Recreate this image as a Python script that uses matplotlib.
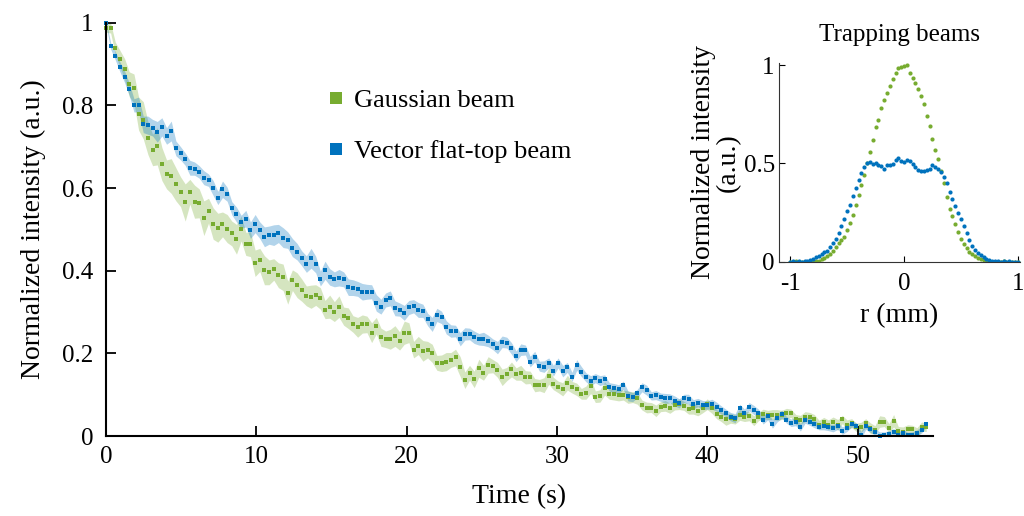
import numpy as np
import matplotlib
matplotlib.use('Agg')
import matplotlib.pyplot as plt

plt.rcParams['font.family'] = ['Liberation Serif', 'DejaVu Serif']
plt.rcParams['axes.unicode_minus'] = False

GREEN = '#77AC30'
BLUE = '#0072BD'

# decay measurement, one sample every 0.31 s
dt = 0.31

gauss_mean = [
    0.987, 0.987, 0.938, 0.913, 0.888, 0.851, 0.841, 0.78, 0.764, 0.721,
    0.692, 0.701, 0.658, 0.633, 0.629, 0.609, 0.591, 0.565, 0.591, 0.567,
    0.563, 0.527, 0.545, 0.514, 0.504, 0.512, 0.502, 0.49, 0.476, 0.502, 0.465,
    0.464, 0.418, 0.426, 0.401, 0.396, 0.403, 0.389, 0.384, 0.347, 0.377,
    0.365, 0.353, 0.339, 0.337, 0.341, 0.333, 0.306, 0.313, 0.301, 0.313,
    0.29, 0.285, 0.271, 0.263, 0.271, 0.27, 0.25, 0.267, 0.239, 0.234, 0.234,
    0.242, 0.23, 0.25, 0.25, 0.209, 0.219, 0.206, 0.209, 0.2, 0.177,
    0.176, 0.18, 0.184, 0.19, 0.168, 0.135, 0.153, 0.137, 0.164, 0.153,
    0.172, 0.169, 0.16, 0.142, 0.15, 0.161, 0.15, 0.153, 0.142, 0.142,
    0.123, 0.123, 0.123, 0.145, 0.127, 0.119, 0.113, 0.129, 0.118, 0.113,
    0.102, 0.105, 0.121, 0.095, 0.097, 0.115, 0.102, 0.102, 0.099, 0.099,
    0.094, 0.094, 0.091, 0.075, 0.069, 0.069, 0.061, 0.071, 0.073, 0.067,
    0.075, 0.077, 0.073, 0.065, 0.067, 0.061, 0.067, 0.077, 0.067, 0.053,
    0.047, 0.04, 0.043, 0.04, 0.051, 0.047, 0.048, 0.037, 0.047, 0.053,
    0.051, 0.052, 0.051, 0.051, 0.055, 0.055, 0.04, 0.039, 0.047, 0.047,
    0.04, 0.027, 0.035, 0.027, 0.035, 0.027, 0.04, 0.027, 0.031, 0.021,
    0.021, 0.031, 0.019, 0.015, 0.035, 0.035, 0.019, 0.037, 0.013, 0.01,
    0.016, 0.016, 0.008, 0.023, 0.021,
]
gauss_err = [
    0.01, 0.012, 0.015, 0.02, 0.025, 0.03, 0.035, 0.04, 0.045, 0.04,
    0.038, 0.045, 0.04, 0.035, 0.042, 0.04, 0.036, 0.045, 0.03, 0.04,
    0.035, 0.042, 0.03, 0.038, 0.035, 0.03, 0.034, 0.03, 0.036, 0.03, 0.028,
    0.03, 0.032, 0.028, 0.035, 0.03, 0.026, 0.03, 0.032, 0.028, 0.025,
    0.03, 0.027, 0.024, 0.028, 0.025, 0.026, 0.022, 0.028, 0.024, 0.026,
    0.022, 0.025, 0.02, 0.024, 0.022, 0.02, 0.024, 0.02, 0.022, 0.02, 0.024,
    0.025, 0.022, 0.028, 0.024, 0.02, 0.022, 0.025, 0.02, 0.022, 0.018,
    0.02, 0.022, 0.018, 0.02, 0.024, 0.02, 0.018, 0.02, 0.022, 0.018,
    0.02, 0.016, 0.018, 0.02, 0.016, 0.018, 0.015, 0.018, 0.016, 0.015,
    0.016, 0.014, 0.018, 0.02, 0.015, 0.014, 0.016, 0.018, 0.014, 0.015,
    0.013, 0.016, 0.018, 0.014, 0.015, 0.016, 0.013, 0.015, 0.014, 0.012,
    0.015, 0.013, 0.014, 0.012, 0.013, 0.012, 0.014, 0.012, 0.013, 0.012,
    0.012, 0.013, 0.011, 0.012, 0.014, 0.012, 0.011, 0.013, 0.012, 0.011,
    0.012, 0.014, 0.012, 0.011, 0.013, 0.012, 0.011, 0.012, 0.01, 0.012,
    0.011, 0.012, 0.013, 0.011, 0.012, 0.01, 0.012, 0.011, 0.012, 0.01,
    0.012, 0.011, 0.01, 0.012, 0.011, 0.013, 0.01, 0.012, 0.011, 0.01,
    0.012, 0.011, 0.013, 0.01, 0.014, 0.012, 0.011, 0.015, 0.01, 0.012,
    0.011, 0.01, 0.012, 0.011, 0.01,
]

flat_mean = [
    1.0, 0.944, 0.92, 0.893, 0.869, 0.839, 0.80, 0.802, 0.754, 0.752,
    0.746, 0.736, 0.748, 0.726, 0.738, 0.696, 0.684, 0.67, 0.649, 0.647,
    0.639, 0.625, 0.619, 0.60, 0.576, 0.597, 0.585, 0.551, 0.536, 0.518, 0.526,
    0.498, 0.514, 0.498, 0.482, 0.486, 0.486, 0.49, 0.48, 0.474, 0.456,
    0.446, 0.43, 0.416, 0.43, 0.415, 0.381, 0.401, 0.385, 0.379, 0.383,
    0.379, 0.36, 0.359, 0.356, 0.349, 0.349, 0.349, 0.322, 0.313, 0.329, 0.333,
    0.309, 0.306, 0.298, 0.311, 0.314, 0.305, 0.303, 0.282, 0.27, 0.293,
    0.287, 0.263, 0.254, 0.254, 0.234, 0.247, 0.247, 0.239, 0.234, 0.235,
    0.23, 0.222, 0.214, 0.228, 0.226, 0.212, 0.193, 0.209, 0.208, 0.18,
    0.192, 0.169, 0.168, 0.177, 0.158, 0.177, 0.157, 0.166, 0.143, 0.172,
    0.156, 0.142, 0.134, 0.14, 0.134, 0.137, 0.119, 0.115, 0.113, 0.123,
    0.097, 0.094, 0.103, 0.118, 0.111, 0.097, 0.099, 0.094, 0.091, 0.091,
    0.085, 0.079, 0.091, 0.089, 0.077, 0.081, 0.075, 0.075, 0.077, 0.071,
    0.063, 0.056, 0.047, 0.043, 0.067, 0.056, 0.071, 0.063, 0.056, 0.039,
    0.048, 0.029, 0.043, 0.053, 0.039, 0.032, 0.035, 0.021, 0.039, 0.035,
    0.029, 0.023, 0.024, 0.021, 0.019, 0.024, 0.013, 0.019, 0.029, 0.024,
    0.002, 0.024, 0.016, 0.01, 0.001, 0.002, 0.006, 0.01, 0.002, 0.008,
    0.002, 0.002, 0.008, 0.015, 0.029,
]
flat_err = [
    0.005, 0.008, 0.01, 0.012, 0.014, 0.015, 0.016, 0.018, 0.02, 0.022,
    0.02, 0.025, 0.022, 0.02, 0.024, 0.018, 0.016, 0.015, 0.018, 0.016,
    0.015, 0.017, 0.015, 0.018, 0.016, 0.02, 0.017, 0.016, 0.018, 0.016, 0.02,
    0.02, 0.022, 0.02, 0.024, 0.022, 0.025, 0.022, 0.024, 0.02, 0.022,
    0.02, 0.018, 0.02, 0.024, 0.02, 0.018, 0.022, 0.02, 0.018, 0.02,
    0.018, 0.02, 0.019, 0.018, 0.02, 0.018, 0.017, 0.02, 0.018, 0.017, 0.018,
    0.018, 0.016, 0.018, 0.017, 0.016, 0.018, 0.016, 0.015, 0.017, 0.016,
    0.015, 0.016, 0.015, 0.014, 0.016, 0.015, 0.014, 0.015, 0.014, 0.016,
    0.014, 0.013, 0.015, 0.014, 0.013, 0.014, 0.013, 0.014, 0.012, 0.013,
    0.013, 0.012, 0.014, 0.012, 0.013, 0.012, 0.014, 0.012, 0.011, 0.013,
    0.012, 0.011, 0.012, 0.011, 0.012, 0.011, 0.01, 0.012, 0.011, 0.01,
    0.012, 0.011, 0.01, 0.011, 0.012, 0.01, 0.011, 0.01, 0.012, 0.011,
    0.012, 0.011, 0.01, 0.012, 0.011, 0.01, 0.011, 0.01, 0.012, 0.011,
    0.01, 0.009, 0.01, 0.011, 0.01, 0.009, 0.01, 0.011, 0.009, 0.01,
    0.009, 0.01, 0.009, 0.01, 0.008, 0.009, 0.01, 0.009, 0.008, 0.009,
    0.009, 0.008, 0.009, 0.008, 0.009, 0.008, 0.009, 0.008, 0.007, 0.008,
    0.009, 0.008, 0.007, 0.008, 0.009, 0.008, 0.007, 0.008, 0.007, 0.008,
    0.007, 0.008, 0.007, 0.008, 0.007,
]

# beam profiles for the inset, r from -1 to 1 mm
profile_gauss = [
    0, 0, 0.002, 0, 0, 0.001, 0, 0.002, 0.001,
    0.003, 0.006, 0.012, 0.02, 0.03, 0.04, 0.055, 0.075, 0.097, 0.11,
    0.128, 0.16, 0.195, 0.24, 0.29, 0.34, 0.39, 0.44, 0.5, 0.56,
    0.62, 0.686, 0.72, 0.78, 0.82, 0.86, 0.895, 0.93, 0.958, 0.985, 0.99,
    0.995, 1.0, 0.96, 0.935, 0.91, 0.876, 0.84, 0.8, 0.74, 0.69,
    0.625, 0.57, 0.52, 0.46, 0.4, 0.33, 0.27, 0.23, 0.19, 0.15,
    0.118, 0.09, 0.068, 0.05, 0.038, 0.028, 0.02, 0.013, 0.008, 0.004, 0.001,
    0, 0.001, 0, 0, 0.002, 0, 0, 0.001, 0, 0,
]
profile_flat = [
    0, 0.003, 0, 0.002, 0, 0.004, 0.006, 0.01, 0.016, 0.022,
    0.03, 0.04, 0.05, 0.057, 0.075, 0.095, 0.118, 0.145, 0.18, 0.215,
    0.26, 0.29, 0.335, 0.375, 0.415, 0.45, 0.483, 0.5, 0.505, 0.498,
    0.5, 0.49, 0.485, 0.47, 0.492, 0.49, 0.495, 0.515, 0.525, 0.51,
    0.505, 0.515, 0.51, 0.495, 0.483, 0.468, 0.462, 0.46, 0.465, 0.47,
    0.49, 0.482, 0.47, 0.455, 0.43, 0.398, 0.356, 0.32, 0.285, 0.25,
    0.215, 0.18, 0.145, 0.108, 0.08, 0.06, 0.042, 0.032, 0.022, 0.012,
    0.008, 0.006, 0.004, 0.002, 0, 0.003, 0, 0.002, 0, 0.001, 0,
]

fig = plt.figure(figsize=(10.24, 5.16), dpi=100)

# main decay plot
ax = fig.add_axes([0.1035, 0.155, 0.8075, 0.801])

for mean, err, color, label in [(gauss_mean, gauss_err, GREEN, 'Gaussian beam'),
                                (flat_mean, flat_err, BLUE, 'Vector flat-top beam')]:
    mean = np.array(mean)
    err = np.array(err)
    t = np.arange(len(mean)) * dt
    ax.fill_between(t, mean - err, mean + err, color=color, alpha=0.3, lw=0)
    ax.plot(t, mean, 's', color=color, ms=3.2, mew=0, label=label, clip_on=False)

ax.set_xlim(0, 55)
ax.set_ylim(0, 1)
ax.set_xticks([0, 10, 20, 30, 40, 50])
ax.set_yticks([0, 0.2, 0.4, 0.6, 0.8, 1])
ax.set_yticklabels(['0', '0.2', '0.4', '0.6', '0.8', '1'])
ax.spines['top'].set_visible(False)
ax.spines['right'].set_visible(False)
for s in ['left', 'bottom']:
    ax.spines[s].set_linewidth(1.5)
ax.tick_params(direction='in', length=7, width=1.3, labelsize=18)
ax.tick_params(axis='y', pad=9)
ax.tick_params(axis='x', pad=7)
ax.set_xlabel('Time (s)', fontsize=20, labelpad=12)
ax.set_ylabel('Normalized intensity (a.u.)', fontsize=20, labelpad=12)

ax.legend(loc='upper left', bbox_to_anchor=(0.268, 0.84), frameon=False,
          fontsize=19, markerscale=2.6, handlelength=0.6, handletextpad=0.4,
          labelspacing=1.05, borderpad=0, borderaxespad=0)

# inset with the trapping beam profiles
ins = fig.add_axes([0.7607, 0.4928, 0.2354, 0.385])
r_g = np.linspace(-1, 1, len(profile_gauss))
r_f = np.linspace(-1, 1, len(profile_flat))
ins.plot(r_g, profile_gauss, 'o', color=GREEN, ms=3, mew=0)
ins.plot(r_f, profile_flat, 'o', color=BLUE, ms=3, mew=0)
ins.set_xlim(-1.1, 1.02)
ins.set_ylim(0, 1.01)
ins.set_xticks([-1, 0, 1])
ins.set_yticks([0, 0.5, 1])
ins.set_yticklabels(['0', '0.5', '1'])
ins.spines['top'].set_visible(False)
ins.spines['right'].set_visible(False)
for s in ['left', 'bottom']:
    ins.spines[s].set_linewidth(0.8)
    ins.spines[s].set_color('#333333')
ins.tick_params(direction='in', length=4, width=0.8, labelsize=18)
ins.tick_params(axis='y', pad=3)
ins.tick_params(axis='x', pad=8)
ins.set_xlabel('r (mm)', fontsize=20, labelpad=6)
ins.set_ylabel('Normalized intensity\n(a.u.)', fontsize=20, labelpad=2, linespacing=1.0)
ins.set_title('Trapping beams', fontsize=18, pad=16)

fig.savefig('out.png', dpi=100)
